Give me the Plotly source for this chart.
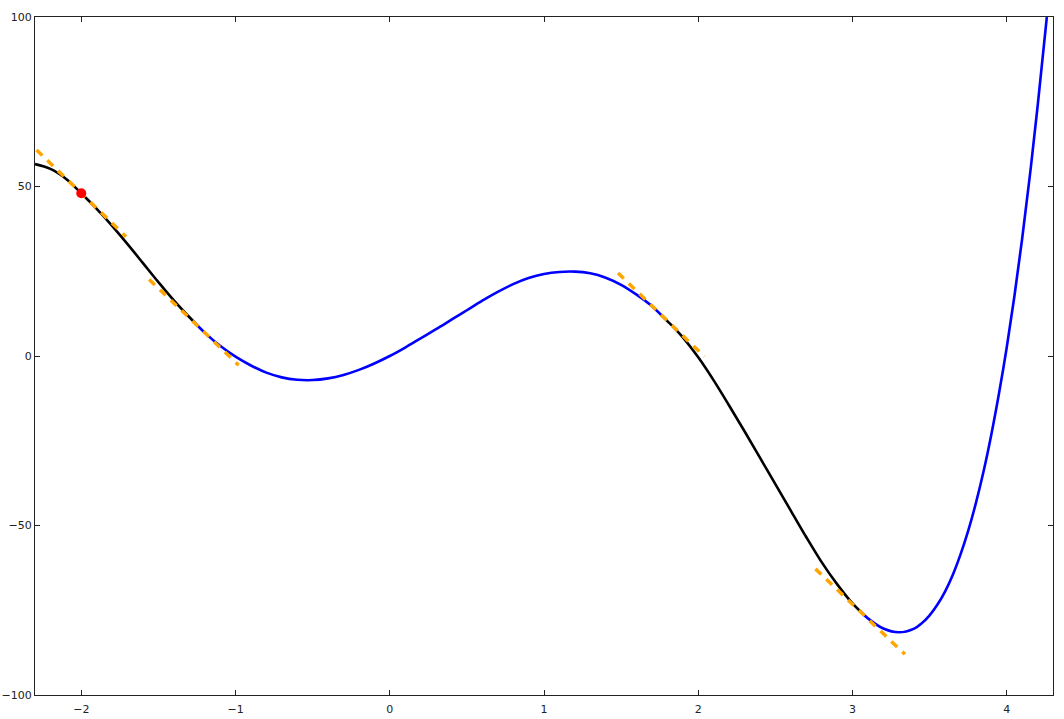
import plotly.graph_objects as go

# ---- data ----
curve_x = [-2.3, -2.2, -2.1, -2.0, -1.9, -1.8, -1.7, -1.6, -1.5, -1.4, -1.3, -1.27,
           -1.2, -1.1, -1.0, -0.9, -0.8, -0.7, -0.6, -0.5, -0.4, -0.3, -0.2, -0.1,
           0.0, 0.1, 0.2, 0.3, 0.4, 0.5, 0.6, 0.7, 0.8, 0.9, 1.0, 1.1, 1.2, 1.3,
           1.4, 1.5, 1.6, 1.7, 1.76, 1.8, 1.9, 2.0, 2.1, 2.2, 2.3, 2.4, 2.5, 2.6,
           2.7, 2.8, 2.9, 3.0, 3.05, 3.1, 3.2, 3.3, 3.4, 3.45, 3.5, 3.55, 3.6, 3.65,
           3.7, 3.75, 3.8, 3.85, 3.9, 3.95, 4.0, 4.05, 4.1, 4.15, 4.2, 4.26]
curve_y = [56.6, 55.2, 52.3, 48.0, 43.4, 38.4, 33.0, 27.4, 21.8, 16.4, 11.5, 10.1,
           6.9, 3.0, -0.2, -2.8, -4.9, -6.3, -7.0, -7.1, -6.6, -5.6, -4.1, -2.2,
           0.0, 2.5, 5.2, 7.9, 10.7, 13.5, 16.3, 18.9, 21.2, 23.0, 24.2, 24.8, 24.9, 24.4,
           23.1, 21.0, 18.1, 14.7, 12.1, 10.3, 5.5, -0.4, -7.2, -14.6, -22.2, -30.0, -37.8, -45.6,
           -53.4, -60.8, -67.3, -73.0, -75.3, -77.4, -80.4, -81.5, -80.4, -78.8, -76.5, -73.4, -69.5, -64.6,
           -58.6, -51.6, -43.4, -34.0, -23.2, -11.0, 2.5, 17.7, 34.6, 53.2, 73.6, 100.0]

segment_bounds = [-2.3, -1.27, 1.76, 3.05, 4.26]
segment_colors = ["black", "blue", "black", "blue"]

tangent_x_start = [-2.29, -1.56, 1.48, 2.76]
tangent_y_start = [60.8, 22.6, 24.5, -62.8]
tangent_x_end = [-1.71, -0.98, 2.04, 3.34]
tangent_y_end = [35.2, -2.7, -0.2, -88.0]

point_x = [-2.0]
point_y = [48.0]

x_ticks = [-2, -1, 0, 1, 2, 3, 4]
x_tick_labels = ["\u22122", "\u22121", "0", "1", "2", "3", "4"]
y_ticks = [-100, -50, 0, 50, 100]
y_tick_labels = ["\u2212100", "\u221250", "0", "50", "100"]

fig = go.Figure()

for k, col in enumerate(segment_colors):
    lo, hi = segment_bounds[k], segment_bounds[k + 1]
    xs = [x for x in curve_x if lo - 1e-9 <= x <= hi + 1e-9]
    ys = [y for x, y in zip(curve_x, curve_y) if lo - 1e-9 <= x <= hi + 1e-9]
    fig.add_trace(go.Scatter(x=xs, y=ys, mode="lines",
                             line=dict(color=col, width=2.6, shape="spline", smoothing=1.0),
                             hoverinfo="skip"))

for xs0, ys0, xs1, ys1 in zip(tangent_x_start, tangent_y_start, tangent_x_end, tangent_y_end):
    fig.add_trace(go.Scatter(x=[xs0, xs1], y=[ys0, ys1], mode="lines",
                             line=dict(color="#FFA500", width=3.5, dash="8px,7px"),
                             hoverinfo="skip"))

fig.add_trace(go.Scatter(x=point_x, y=point_y, mode="markers",
                         marker=dict(color="#FF0000", size=10, line=dict(width=0))))

axis_common = dict(
    showgrid=False, zeroline=False, showline=True, linecolor="#222", linewidth=1,
    mirror="ticks", ticks="inside", ticklen=5, tickwidth=1, tickcolor="#222",
    tickfont=dict(family="DejaVu Sans", size=11, color="#222"),
    automargin=False,
)

fig.update_xaxes(range=[-2.3, 4.3], tickvals=x_ticks, ticktext=x_tick_labels,
                 ticklabelstandoff=4, **axis_common)
fig.update_yaxes(range=[-100, 100], tickvals=y_ticks, ticktext=y_tick_labels, **axis_common)

fig.update_layout(
    width=1064, height=719,
    margin=dict(l=35, r=11, t=17, b=24),
    paper_bgcolor="white", plot_bgcolor="white",
    showlegend=False,
)

fig.write_html("out.html",
               config={"displayModeBar": False},
               post_script="document.body.style.margin='0px';document.body.style.overflow='hidden';")
